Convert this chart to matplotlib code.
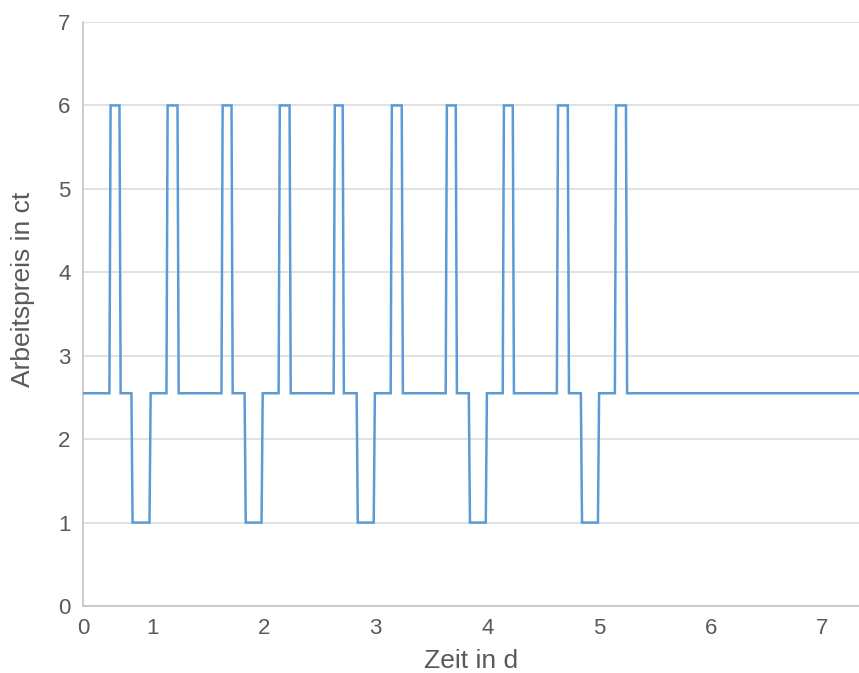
import numpy as np
import matplotlib
matplotlib.use("Agg")
import matplotlib.pyplot as plt

plt.rcParams["font.family"] = ["Liberation Sans", "DejaVu Sans"]

# price levels in ct
base_price = 2.55
peak_price = 6.0
low_price = 1.0

# time window shown, in days
t_start = 0.377
t_end = 7.33

# switching times (days)
peak_start = [0.619, 1.130, 1.623, 2.135, 2.628, 3.139, 3.632, 4.143, 4.628, 5.148]
peak_end = [0.709, 1.229, 1.713, 2.233, 2.709, 3.238, 3.722, 4.233, 4.726, 5.247]
dip_start = [0.816, 1.830, 2.834, 3.839, 4.843]
dip_end = [0.978, 1.982, 2.987, 3.991, 4.996]

x_tick_labels = ["0", "1", "2", "3", "4", "5", "6", "7"]
y_ticks = [0, 1, 2, 3, 4, 5, 6, 7]

# 15 min sampling -> short ramps at every switch
step = 1 / 96


def build_series():
    events = []
    for a, b in zip(peak_start, peak_end):
        events.append((a, base_price, peak_price))
        events.append((b, peak_price, base_price))
    for a, b in zip(dip_start, dip_end):
        events.append((a, base_price, low_price))
        events.append((b, low_price, base_price))
    events.sort()
    t = [t_start]
    p = [base_price]
    for when, old, new in events:
        t += [when - step / 2, when + step / 2]
        p += [old, new]
    t.append(t_end)
    p.append(base_price)
    return np.array(t), np.array(p)


def main():
    t, p = build_series()
    fig = plt.figure(figsize=(8.59, 6.73), dpi=100)
    ax = fig.add_axes([83 / 859, 1 - 606 / 673, 776 / 859, (606 - 22) / 673])

    ax.plot(t, p, color="#5B9BD5", lw=1.8, solid_joinstyle="miter", zorder=3)

    ax.set_xlim(t_start, t_end)
    ax.set_ylim(0, 7)
    ax.set_yticks(y_ticks)
    ax.set_xticks([t_start] + list(range(1, 8)))
    ax.set_xticklabels(x_tick_labels)
    ax.yaxis.grid(True, color="#D9D9D9", lw=1.1)
    ax.set_axisbelow(True)
    for side in ("top", "right"):
        ax.spines[side].set_visible(False)
    for side in ("left", "bottom"):
        ax.spines[side].set_color("#BFBFBF")
        ax.spines[side].set_linewidth(1.1)
    ax.tick_params(length=0, labelsize=16, colors="#595959", pad=9)
    ax.set_xlabel("Zeit in d", fontsize=19, color="#595959", labelpad=7)
    ax.set_ylabel("Arbeitspreis in ct", fontsize=19, color="#595959")
    ax.yaxis.set_label_coords(-0.062, 0.543)

    fig.savefig("out.png", dpi=100)
    plt.close(fig)


if __name__ == "__main__":
    main()
